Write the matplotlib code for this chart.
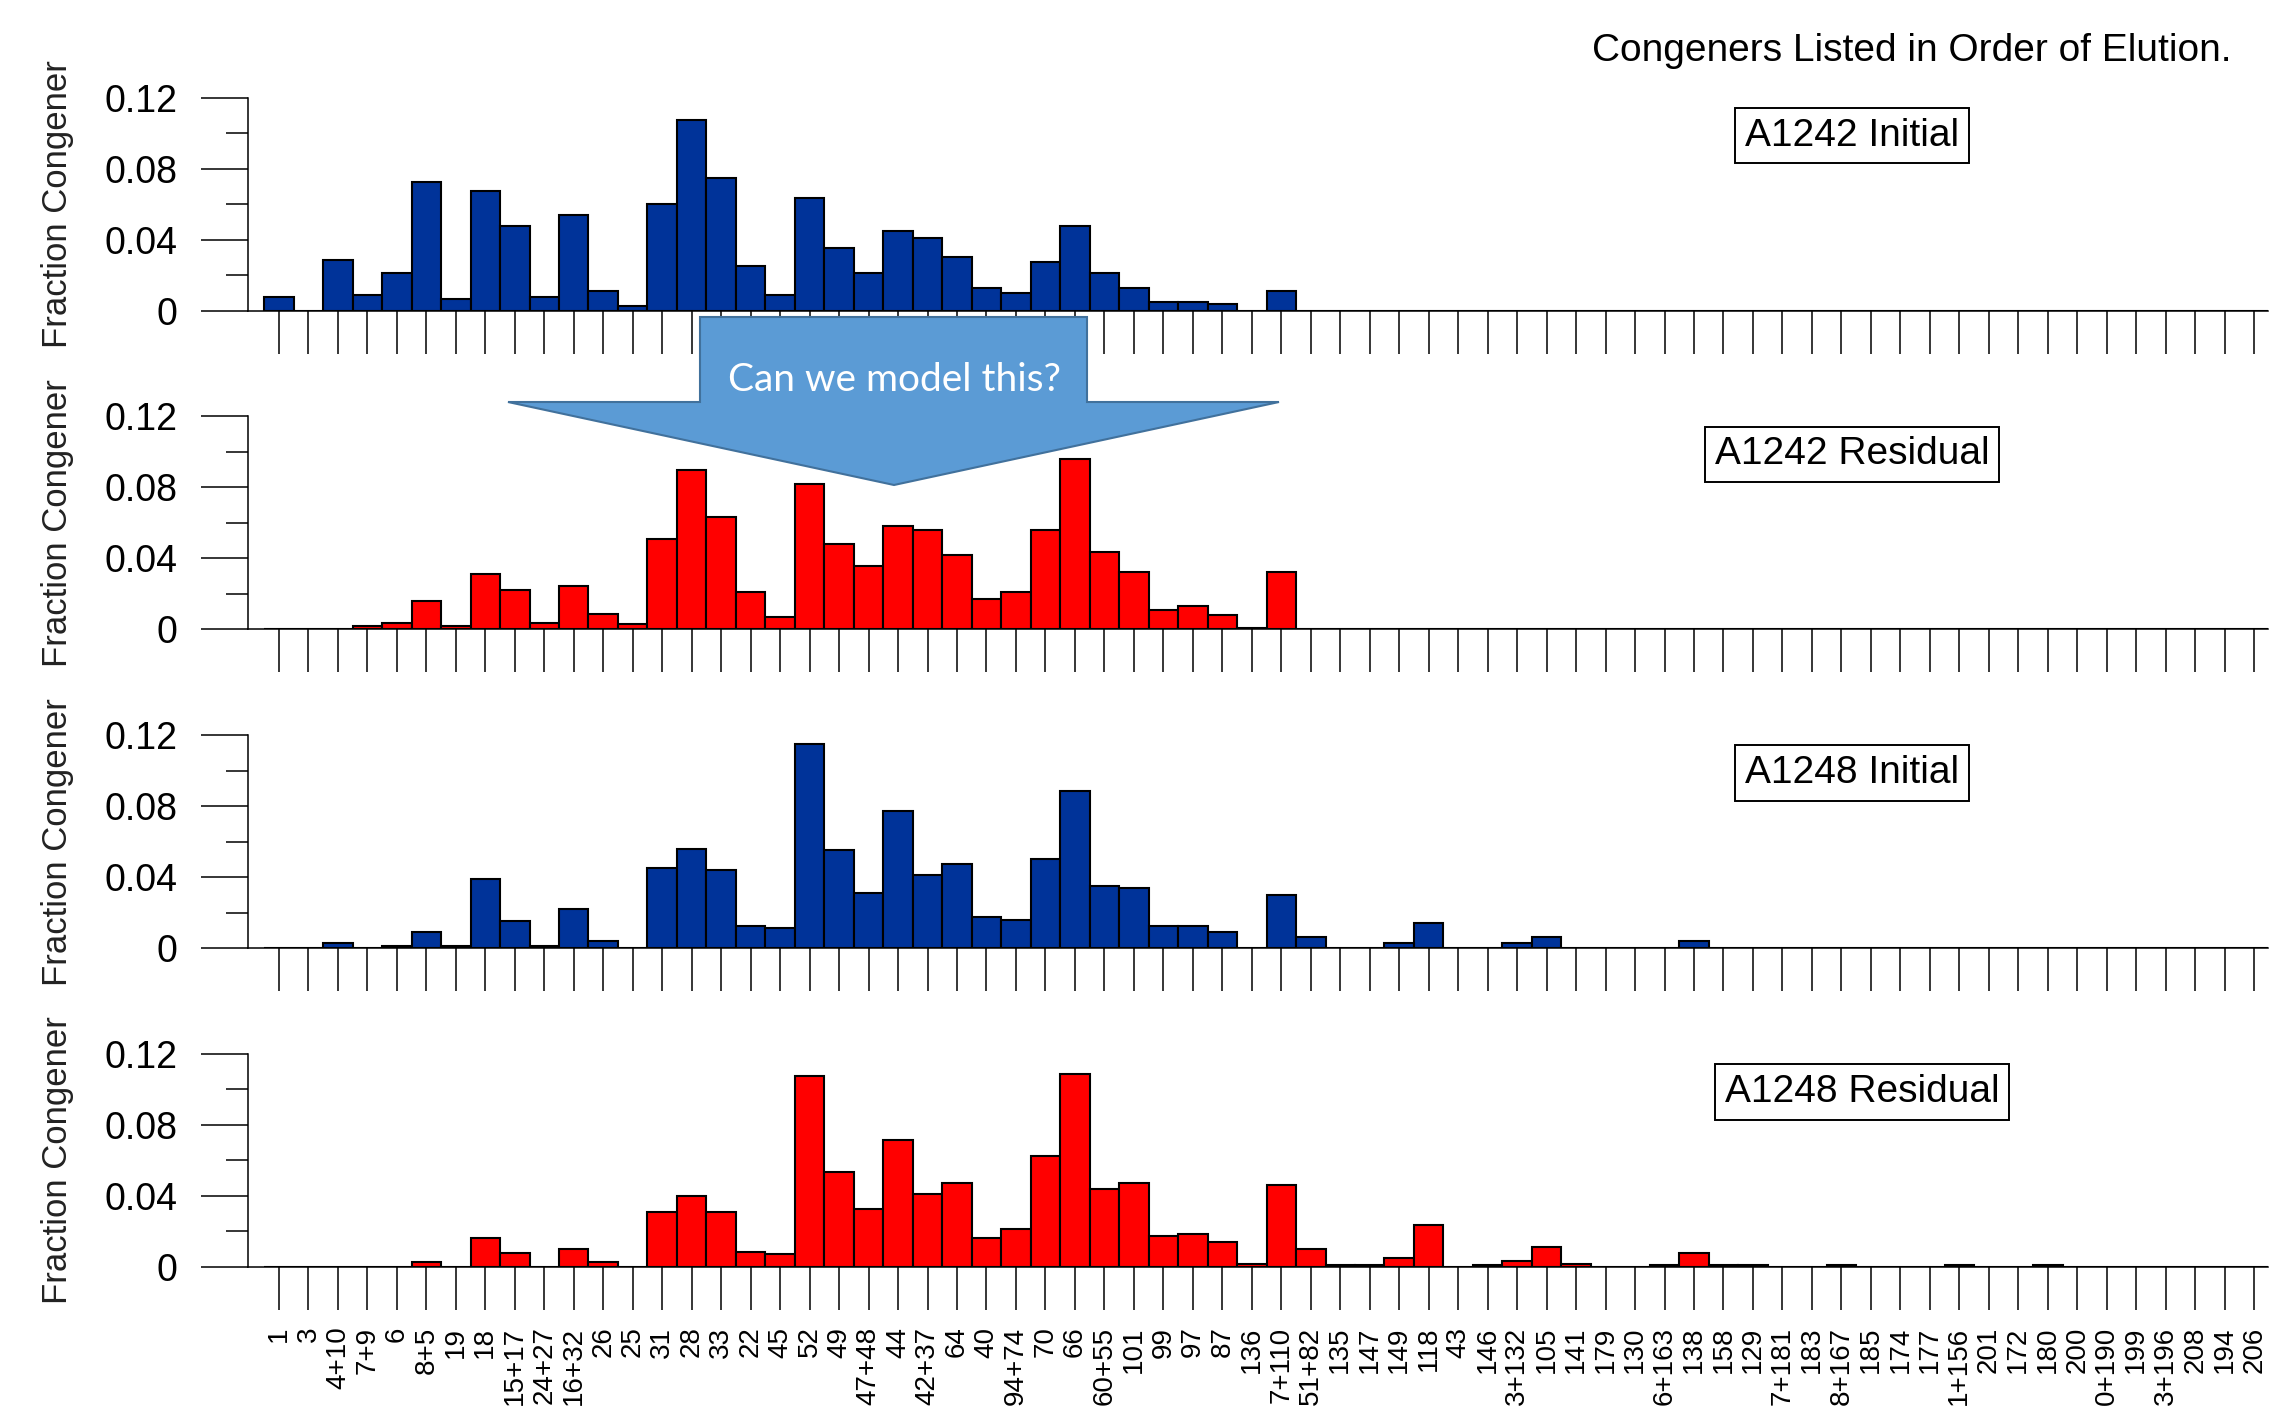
import matplotlib.pyplot as plt
import numpy as np
from matplotlib.patches import Polygon
from matplotlib.ticker import MultipleLocator

plt.rcParams['font.family'] = ['Liberation Sans', 'DejaVu Sans']

# congeners, in order of elution (labels as visible in the figure)
labels = ['1', '3', '4+10', '7+9', '6', '8+5', '19', '18', '15+17', '24+27',
          '16+32', '26', '25', '31', '28', '33', '22', '45', '52', '49',
          '47+48', '44', '42+37', '64', '40', '94+74', '70', '66', '60+55', '101',
          '99', '97', '87', '136', '7+110', '51+82', '135', '147', '149', '118',
          '43', '146', '3+132', '105', '141', '179', '130', '6+163', '138', '158',
          '129', '7+181', '183', '8+167', '185', '174', '177', '1+156', '201', '172',
          '180', '200', '0+190', '199', '3+196', '208', '194', '206']

a1242_initial = [0.0075, 0, 0.0287, 0.0086, 0.0212, 0.0725, 0.0064, 0.0676, 0.0477, 0.0075,
                 0.0537, 0.0113, 0.0026, 0.0599, 0.1074, 0.0749, 0.0252, 0.0088, 0.0637, 0.0351,
                 0.0214, 0.045, 0.0411, 0.030, 0.0126, 0.0098, 0.0272, 0.0475, 0.021, 0.0126,
                 0.0047, 0.0047, 0.0038, 0, 0.0111, 0, 0, 0, 0, 0,
                 0, 0, 0, 0, 0, 0, 0, 0, 0, 0,
                 0, 0, 0, 0, 0, 0, 0, 0, 0, 0,
                 0, 0, 0, 0, 0, 0, 0, 0]

a1242_residual = [0, 0, 0, 0.0019, 0.0036, 0.016, 0.0019, 0.031, 0.0222, 0.0034,
                  0.0246, 0.0085, 0.0032, 0.0507, 0.0896, 0.0635, 0.0208, 0.0068, 0.0819, 0.0483,
                  0.0359, 0.0582, 0.0558, 0.0421, 0.0171, 0.0208, 0.0558, 0.0958, 0.0434, 0.0321,
                  0.0109, 0.0131, 0.0083, 0.0008, 0.0321, 0, 0, 0, 0, 0,
                  0, 0, 0, 0, 0, 0, 0, 0, 0, 0,
                  0, 0, 0, 0, 0, 0, 0, 0, 0, 0,
                  0, 0, 0, 0, 0, 0, 0, 0]

a1248_initial = [0, 0, 0.0026, 0, 0.0013, 0.0088, 0.0013, 0.0387, 0.015, 0.0013,
                 0.0223, 0.0038, 0, 0.0451, 0.0561, 0.0438, 0.0124, 0.0111, 0.1149, 0.055,
                 0.0312, 0.0774, 0.0411, 0.0473, 0.0173, 0.016, 0.0501, 0.0886, 0.0349, 0.0338,
                 0.0124, 0.0124, 0.0088, 0, 0.030, 0.0062, 0, 0, 0.0026, 0.0139,
                 0, 0, 0.0026, 0.0062, 0, 0, 0, 0, 0.0038, 0,
                 0, 0, 0, 0, 0, 0, 0, 0, 0, 0,
                 0, 0, 0, 0, 0, 0, 0, 0]

a1248_residual = [0, 0, 0, 0, 0, 0.0026, 0, 0.0162, 0.0075, 0,
                  0.01, 0.0026, 0, 0.031, 0.0398, 0.031, 0.0085, 0.0071, 0.1076, 0.0535,
                  0.0323, 0.0712, 0.0409, 0.0473, 0.0162, 0.0212, 0.0625, 0.1085, 0.0436, 0.0473,
                  0.0173, 0.0186, 0.0137, 0.0015, 0.0462, 0.01, 0.001, 0.001, 0.0049, 0.0238,
                  0, 0.001, 0.0034, 0.0111, 0.0013, 0, 0, 0.001, 0.0077, 0.001,
                  0.001, 0, 0, 0.001, 0, 0, 0, 0.001, 0, 0,
                  0.001, 0, 0, 0, 0, 0, 0, 0]

panels = [(a1242_initial, '#003399', 'A1242 Initial'),
          (a1242_residual, '#ff0000', 'A1242 Residual'),
          (a1248_initial, '#003399', 'A1248 Initial'),
          (a1248_residual, '#ff0000', 'A1248 Residual')]

W, H = 2282, 1409
fig = plt.figure(figsize=(W / 100, H / 100), dpi=100)

x = np.arange(len(labels))
box_x = [1852, 1852, 1852, 1862]

for k, (vals, col, name) in enumerate(panels):
    zero_y = 310.7 + 318.7 * k
    ax = fig.add_axes([248 / W, 1 - zero_y / H, 2020 / W, 213 / H])
    ax.bar(x, vals, width=1.0, color=col, edgecolor='black', linewidth=1.5)
    ax.set_xlim(-1.05, 67.47)
    ax.set_ylim(0, 0.12)
    ax.spines['top'].set_visible(False)
    ax.spines['right'].set_visible(False)
    for s in ['left', 'bottom']:
        ax.spines[s].set_linewidth(1.1)
    ax.set_yticks([0, 0.04, 0.08, 0.12])
    ax.set_yticklabels(['0', '0.04', '0.08', '0.12'])
    ax.yaxis.set_minor_locator(MultipleLocator(0.02))
    ax.tick_params(axis='y', which='major', length=34, width=1.1, pad=17, labelsize=27)
    ax.tick_params(axis='y', which='minor', length=16, width=1.1)
    ax.set_xticks(x)
    ax.tick_params(axis='x', length=31, width=1.1, pad=12)
    if k == 3:
        ax.set_xticklabels(labels, rotation=90, fontsize=20, va='top')
    else:
        ax.set_xticklabels([])
    fig.text(57 / W, 1 - (zero_y - 106.5) / H, 'Fraction Congener', rotation=90,
             ha='center', va='center', fontsize=25, color='#222222')
    fig.text(box_x[k] / W, 1 - (zero_y - 175) / H, name, ha='center', va='center',
             fontsize=28,
             bbox=dict(boxstyle='square,pad=0.25', fc='white', ec='black', lw=1.4))

fig.text(2231 / W, 1 - 51 / H, 'Congeners Listed in Order of Elution.',
         ha='right', va='center', fontsize=28)

# block arrow "Can we model this?"
arrow_px = [(700, 317), (1087, 317), (1087, 402), (1279, 402), (894, 485),
            (508, 402), (700, 402)]
arrow = Polygon([(px / W, 1 - py / H) for px, py in arrow_px], closed=True,
                transform=fig.transFigure, fc='#5b9bd5', ec='#41719c', lw=1.5, zorder=10)
fig.add_artist(arrow)
fig.text(894 / W, 1 - 380 / H, 'Can we model this?', ha='center', va='center',
         fontsize=28, color='white', family=['Lato', 'DejaVu Sans'], zorder=11)

plt.savefig('out.png', dpi=100)
